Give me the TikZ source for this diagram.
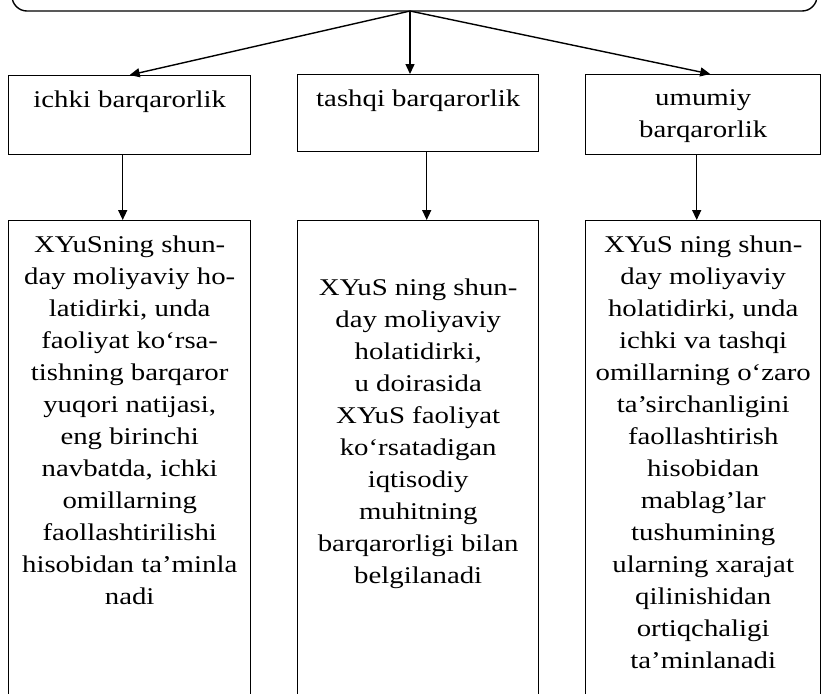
\documentclass[tikz,border=0pt]{standalone}
\usepackage{fontspec}
\setmainfont{Liberation Serif}[FakeStretch=1.2]
\usetikzlibrary{arrows.meta,positioning}

\begin{document}
\begin{tikzpicture}[
  x=0.5pt, y=-0.5pt,
  box/.style={draw, line width=0.7pt, anchor=north west, inner sep=0pt},
  txt/.style={anchor=north, inner sep=0pt, align=center, font=\fontsize{12pt}{16pt}\selectfont},
  arr/.style={-{Triangle[length=5pt,width=4.5pt]}, line width=0.7pt}
]
\useasboundingbox (0,0) rectangle (822,693);
\clip (0,0) rectangle (822,693);
\node[draw, line width=0.7pt, rounded corners=7.5pt, minimum width=402.5pt, minimum height=30pt, inner sep=0pt] (stab) at (414.5,-19) {};
\coordinate (fork) at (410,11);
\node[box, minimum width=121pt, minimum height=39.5pt] (ich) at (8,75) {};
\node[box, minimum width=120.5pt, minimum height=38.5pt] (tash) at (297,74) {};
\node[box, minimum width=117.5pt, minimum height=40pt] (umum) at (585,74) {};
\node[txt] (ichtxt) at ([yshift=-7.8pt]ich.north) {ichki barqarorlik};
\node[txt] (tashtxt) at ([yshift=-7.8pt]tash.north) {tashqi barqarorlik};
\node[txt] (umumtxt) at ([yshift=-7.8pt]umum.north) {umumiy\\barqarorlik};
\node[box, minimum width=121pt, minimum height=260pt] (ichd) at (8,220) {};
\node[box, minimum width=120.5pt, minimum height=260pt] (tashd) at (297,220) {};
\node[box, minimum width=117.5pt, minimum height=260pt] (umumd) at (585,220) {};
\node[txt] (ichdtxt) at ([yshift=-7.8pt]ichd.north) {XYuSning shun-\\day moliyaviy ho-\\latidirki, unda\\faoliyat ko‘rsa-\\tishning barqaror\\yuqori natijasi,\\eng birinchi\\navbatda, ichki\\omillarning\\faollashtirilishi\\hisobidan ta’minla\\nadi};
\node[txt] (tashdtxt) at ([yshift=-29.3pt]tashd.north) {XYuS ning shun-\\day moliyaviy\\holatidirki,\\u doirasida\\XYuS faoliyat\\ko‘rsatadigan\\iqtisodiy\\muhitning\\barqarorligi bilan\\belgilanadi};
\node[txt] (umumdtxt) at ([yshift=-7.8pt]umumd.north) {XYuS ning shun-\\day moliyaviy\\holatidirki, unda\\ichki va tashqi\\omillarning o‘zaro\\ta’sirchanligini\\faollashtirish\\hisobidan\\mablag’lar\\tushumining\\ularning xarajat\\qilinishidan\\ortiqchaligi\\ta’minlanadi};
\draw[arr] (fork) -- (ich.north);
\draw[arr] (fork) -- (fork |- tash.north);
\draw[arr] (fork) -- ([xshift=3.5pt]umum.north);
\draw[arr] ([xshift=-3.5pt]ich.south) -- ([xshift=-3.5pt]ich.south |- ichd.north);
\draw[arr] ([xshift=4.25pt]tash.south) -- ([xshift=4.25pt]tash.south |- tashd.north);
\draw[arr] ([xshift=-3.25pt]umum.south) -- ([xshift=-3.25pt]umum.south |- umumd.north);
\end{tikzpicture}
\end{document}
